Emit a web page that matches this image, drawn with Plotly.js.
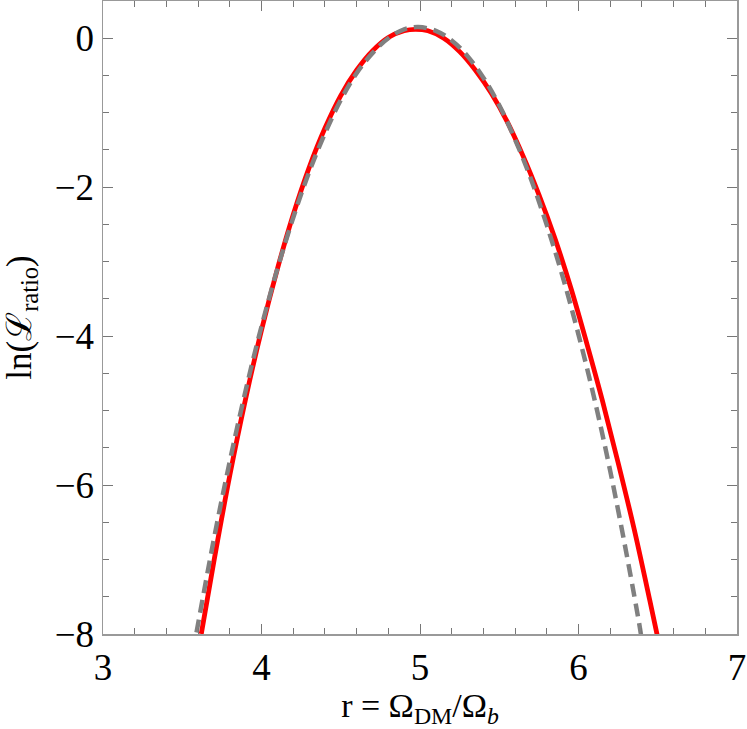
<!DOCTYPE html>
<html>
<head>
<meta charset="utf-8">
<script src="https://cdn.plot.ly/plotly-3.0.1.min.js"></script>
<style>html,body{margin:0;padding:0;background:#fff;}#chart{width:747px;height:729px;}</style>
</head>
<body>
<div id="chart"></div>
<script>
// Red solid curve
const redX = [3.62, 3.70, 3.80, 3.90, 4.00, 4.10, 4.20, 4.30, 4.40, 4.50, 4.60, 4.70, 4.80, 4.90, 4.97, 5.05, 5.15, 5.25, 5.35, 5.45, 5.55, 5.65, 5.75, 5.85, 5.95, 6.05, 6.15, 6.25, 6.35, 6.45, 6.50];
const redY = [-8.0, -7.02, -5.87, -4.84, -3.92, -3.10, -2.37, -1.74, -1.21, -0.77, -0.43, -0.17, 0.01, 0.10, 0.12, 0.10, 0.00, -0.18, -0.43, -0.74, -1.12, -1.58, -2.10, -2.68, -3.34, -4.08, -4.86, -5.70, -6.58, -7.55, -8.05];
// Gray dashed curve
const grayX = [3.59, 3.70, 3.80, 3.90, 4.00, 4.10, 4.20, 4.30, 4.40, 4.50, 4.60, 4.70, 4.80, 4.90, 4.99, 5.10, 5.20, 5.30, 5.40, 5.50, 5.60, 5.70, 5.80, 5.90, 6.00, 6.10, 6.20, 6.30, 6.39, 6.40];
const grayY = [-7.98, -6.72, -5.68, -4.73, -3.87, -3.10, -2.41, -1.80, -1.28, -0.83, -0.47, -0.20, 0.00, 0.12, 0.15, 0.10, -0.03, -0.24, -0.53, -0.90, -1.36, -1.89, -2.51, -3.20, -3.98, -4.84, -5.81, -6.89, -7.95, -8.10];
const xTicks = [3, 4, 5, 6, 7];
const yTicks = [0, -2, -4, -6, -8];

const font = 'Liberation Serif';
const traces = [
  {x: redX, y: redY, mode: 'lines', line: {color: '#ff0000', width: 4.8, shape: 'spline'}, hoverinfo: 'skip'},
  {x: grayX, y: grayY, mode: 'lines', line: {color: '#808080', width: 4.5, dash: '13px,7px', shape: 'spline'}, hoverinfo: 'skip'}
];
const axisCommon = {
  showgrid: false, zeroline: false, showline: true, mirror: 'ticks',
  linecolor: '#999999', linewidth: 1.5,
  ticks: 'inside', ticklen: 10, tickwidth: 1, tickcolor: '#777777',
  tickfont: {family: font, size: 37, color: '#000'}
};
const minusLabel = v => v < 0 ? '\u2212' + Math.abs(v) : String(v);
const layout = {
  width: 747, height: 729,
  margin: {l: 103, r: 10, t: 1, b: 95},
  paper_bgcolor: '#fff', plot_bgcolor: '#fff',
  showlegend: false,
  xaxis: Object.assign({}, axisCommon, {
    range: [3, 7], tickvals: xTicks, ticktext: xTicks.map(String),
    minor: {dtick: 0.2, tick0: 3, ticks: 'inside', ticklen: 6, tickcolor: '#777777', tickwidth: 1},
    title: {text: 'r = Ω<sub>DM</sub>/Ω<sub><i>b</i></sub>', font: {family: font, size: 34, color: '#000'}, standoff: 4}
  }),
  yaxis: Object.assign({}, axisCommon, {
    range: [-8, 0.5], tickvals: yTicks, ticktext: yTicks.map(minusLabel),
    automargin: true,
    minor: {dtick: 0.5, tick0: 0, ticks: 'inside', ticklen: 6, tickcolor: '#777777', tickwidth: 1},
    title: {text: 'ln(ℒ<sub>ratio</sub>)', font: {family: font, size: 35, color: '#000'}, standoff: 24}
  })
};
Plotly.newPlot('chart', traces, layout, {staticPlot: true, displayModeBar: false});
</script>
</body>
</html>
